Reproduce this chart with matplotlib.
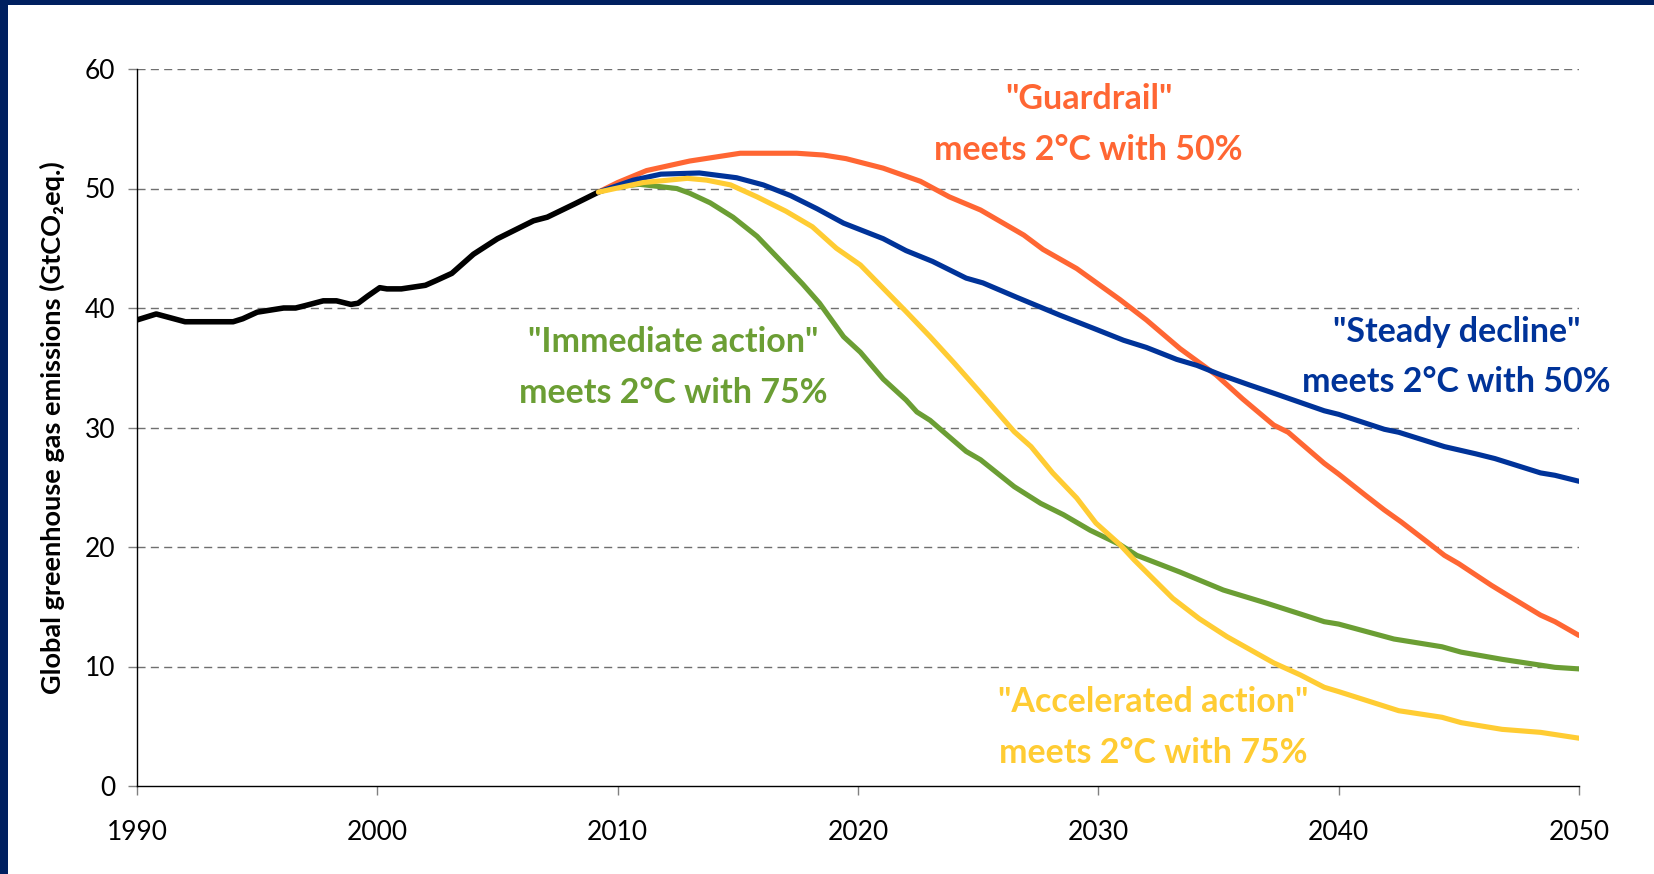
import matplotlib
matplotlib.use("Agg")
import matplotlib.pyplot as plt
from matplotlib.patches import Rectangle

plt.rcParams['font.family'] = ['Lato', 'DejaVu Sans']
plt.rcParams['lines.scale_dashes'] = False

# ---------------- data ----------------
hist_years = [1990, 1990.8, 1992.0, 1994.0, 1994.4, 1995.0, 1996.1, 1996.6, 1997.0,
              1997.75, 1998.3, 1998.9, 1999.2, 1999.6, 2000.1, 2000.4, 2001.0, 2002.0,
              2002.45, 2003.1, 2004.0, 2005.0, 2006.0, 2006.5, 2007.07, 2008.2, 2009.2]
hist_vals = [39.0, 39.5, 38.85, 38.85, 39.1, 39.65, 40.0, 40.0, 40.2,
             40.6, 40.6, 40.3, 40.4, 41.0, 41.7, 41.6, 41.6, 41.9,
             42.3, 42.9, 44.5, 45.8, 46.8, 47.3, 47.6, 48.7, 49.7]

guard_years = [2009.2, 2010.0, 2011.2, 2013.0, 2015.1, 2017.45, 2018.56, 2019.5, 2021.05,
               2022.6, 2023.8, 2025.1, 2026.9, 2027.7, 2029.1, 2030.9, 2032.0, 2033.4,
               2034.9, 2036.0, 2037.3, 2037.9, 2039.4, 2040.0, 2041.1, 2041.9, 2042.6,
               2043.7, 2044.4, 2045.0, 2046.35, 2047.0, 2048.4, 2049.0, 2050.0]
guard_vals = [49.7, 50.5, 51.5, 52.3, 52.95, 52.95, 52.8, 52.5, 51.7,
              50.6, 49.3, 48.2, 46.1, 44.9, 43.3, 40.7, 39.0, 36.6,
              34.4, 32.4, 30.2, 29.6, 27.0, 26.1, 24.35, 23.1, 22.1,
              20.4, 19.3, 18.6, 16.8, 16.0, 14.3, 13.75, 12.6]

steady_years = [2009.2, 2010.65, 2011.8, 2013.4, 2014.95, 2016.06, 2017.2, 2018.3, 2019.4,
                2021.05, 2022.0, 2023.1, 2024.5, 2025.2, 2026.6, 2028.4, 2029.8, 2031.05,
                2032.0, 2033.26, 2034.1, 2035.1, 2036.3, 2037.4, 2039.4, 2040.0, 2041.9,
                2042.5, 2044.4, 2045.7, 2046.5, 2048.4, 2049.0, 2050.0]
steady_vals = [49.7, 50.7, 51.2, 51.3, 50.9, 50.3, 49.4, 48.3, 47.1,
               45.8, 44.8, 43.9, 42.5, 42.1, 40.9, 39.4, 38.3, 37.3,
               36.7, 35.7, 35.2, 34.4, 33.55, 32.8, 31.4, 31.1, 29.85,
               29.6, 28.4, 27.8, 27.4, 26.2, 26.0, 25.5]

accel_years = [2009.2, 2011.07, 2012.9, 2013.7, 2014.7, 2015.8, 2017.0, 2018.1, 2019.1,
               2020.1, 2021.05, 2022.0, 2023.0, 2024.0, 2025.1, 2026.5, 2027.2, 2028.1,
               2029.1, 2029.9, 2030.9, 2031.5, 2033.1, 2034.2, 2035.35, 2037.3, 2038.4,
               2039.4, 2040.0, 2042.5, 2044.3, 2045.1, 2046.8, 2048.4, 2050.0]
accel_vals = [49.7, 50.5, 50.85, 50.7, 50.3, 49.3, 48.1, 46.8, 45.0,
              43.6, 41.65, 39.7, 37.6, 35.4, 32.9, 29.65, 28.4, 26.2,
              24.1, 22.0, 20.2, 18.9, 15.7, 14.0, 12.5, 10.3, 9.3,
              8.26, 7.9, 6.3, 5.75, 5.3, 4.74, 4.49, 4.0]

immed_years = [2009.2, 2009.96, 2010.9, 2012.46, 2013.0, 2013.85, 2014.8, 2015.8, 2016.9,
               2017.7, 2018.4, 2019.4, 2020.1, 2021.05, 2022.0, 2022.45, 2023.0, 2024.5,
               2025.1, 2026.5, 2027.6, 2028.55, 2029.66, 2030.9, 2031.6, 2033.4, 2035.2,
               2037.0, 2038.4, 2039.4, 2040.0, 2042.3, 2044.3, 2045.1, 2046.8, 2049.0, 2050.0]
immed_vals = [49.7, 50.15, 50.35, 50.0, 49.6, 48.8, 47.6, 46.0, 43.7,
              42.0, 40.4, 37.6, 36.3, 34.05, 32.3, 31.3, 30.6, 28.0,
              27.3, 25.05, 23.65, 22.7, 21.4, 20.2, 19.3, 17.9, 16.4,
              15.3, 14.4, 13.75, 13.55, 12.3, 11.65, 11.2, 10.6, 9.93, 9.8]

x_ticks = [1990, 2000, 2010, 2020, 2030, 2040, 2050]
y_ticks = [0, 10, 20, 30, 40, 50, 60]

labels = ['"Guardrail"\nmeets 2°C with 50%',
          '"Immediate action"\nmeets 2°C with 75%',
          '"Steady decline"\nmeets 2°C with 50%',
          '"Accelerated action"\nmeets 2°C with 75%']

C_ORANGE = '#FF6633'
C_BLUE = '#003399'
C_GREEN = '#6B9E34'
C_YELLOW = '#FFCC33'
C_NAVY = '#002060'

# ---------------- figure ----------------
fig = plt.figure(figsize=(16.54, 8.74), dpi=100)
fig.patch.set_facecolor('white')
fig.add_artist(Rectangle((0, 0), 8 / 1654, 1, transform=fig.transFigure,
                         facecolor=C_NAVY, edgecolor='none'))
fig.add_artist(Rectangle((0, 1 - 5 / 874), 1, 5 / 874, transform=fig.transFigure,
                         facecolor=C_NAVY, edgecolor='none'))

ax = fig.add_axes([137 / 1654, 1 - 786 / 874, (1579 - 137) / 1654, (786 - 69) / 874])
ax.set_xlim(1990, 2050)
ax.set_ylim(0, 60)

for y in y_ticks[1:]:
    ax.axhline(y, color='#707070', lw=1.0, ls=(0, (5.8, 3.8)), zorder=1)

lw = 3.7
ax.plot(hist_years, hist_vals, color='black', lw=4.0, solid_capstyle='round', zorder=3)
ax.plot(immed_years, immed_vals, color=C_GREEN, lw=lw, solid_capstyle='round', zorder=3)
ax.plot(guard_years, guard_vals, color=C_ORANGE, lw=lw, solid_capstyle='round', zorder=3)
ax.plot(steady_years, steady_vals, color=C_BLUE, lw=lw, solid_capstyle='round', zorder=4)
ax.plot(accel_years, accel_vals, color=C_YELLOW, lw=lw, solid_capstyle='round', zorder=4)

for s in ['top', 'right']:
    ax.spines[s].set_visible(False)
for s in ['left', 'bottom']:
    ax.spines[s].set_color('black')
    ax.spines[s].set_linewidth(1.0)

ax.set_xticks(x_ticks)
ax.set_yticks(y_ticks)
ax.tick_params(axis='both', direction='out', length=6.5, width=1.0, color='#808080',
               labelsize=19, labelcolor='black')
ax.tick_params(axis='x', pad=18)
ax.tick_params(axis='y', pad=9)

ax.set_ylabel('Global greenhouse gas emissions (GtCO\u2082eq.)', fontsize=19.5,
              fontweight='bold', labelpad=14)

tkw = dict(ha='center', va='center', fontsize=24.5, fontweight='bold',
           linespacing=1.72, zorder=5, clip_on=False)
ax.text(2029.6, 55.35, labels[0], color=C_ORANGE, **tkw)
ax.text(2012.3, 35.0, labels[1], color=C_GREEN, **tkw)
ax.text(2044.9, 35.9, labels[2], color=C_BLUE, **tkw)
ax.text(2032.3, 4.87, labels[3], color=C_YELLOW, **tkw)

fig.savefig('out.png', dpi=100)
